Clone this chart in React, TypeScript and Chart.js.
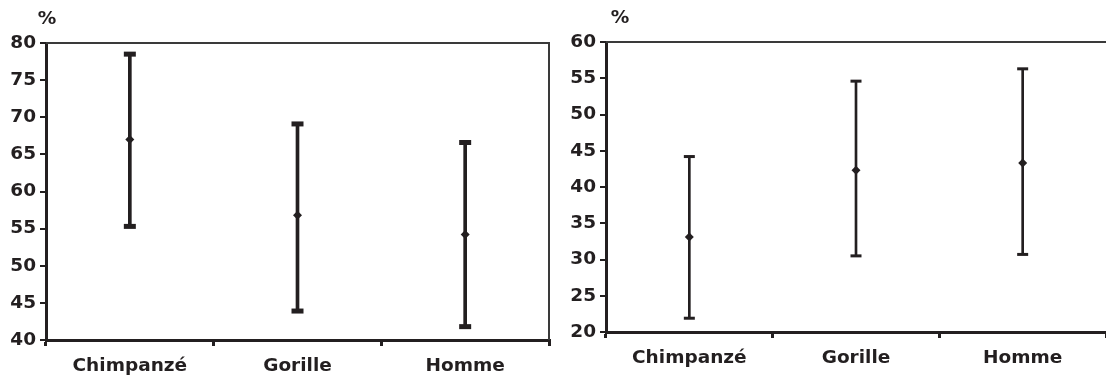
import React, { useEffect, useRef } from "react";
import { Chart, registerables } from "chart.js";

Chart.register(...registerables);

const categories = ["Chimpanzé", "Gorille", "Homme"];
const unitLabel = "%";

const leftHigh = [78.5, 69.1, 66.6];
const leftLow = [55.3, 43.9, 41.8];
const leftMean = [67.0, 56.8, 54.2];

const rightHigh = [44.2, 54.6, 56.3];
const rightLow = [21.9, 30.5, 30.7];
const rightMean = [33.1, 42.3, 43.3];

const leftMin = 40;
const leftMax = 80;
const rightMin = 20;
const rightMax = 60;
const tickStep = 5;

const DARK = "#231f20";
const FONT = "'DejaVu Sans', 'Liberation Sans', Arial, sans-serif";
const FONT_SIZE = 18.5;

type Cfg = {
  high: number[];
  low: number[];
  mean: number[];
  min: number;
  max: number;
  yWidth: number;
  xHeight: number;
  padTop: number;
  padRight: number;
  capWidth: number;
  capThick: number;
  barWidth: number;
  unitDx: number;
  rightBorder: boolean;
};

const boxPlugin = {
  id: "boxAndUnit",
  afterDraw(chart: any) {
    const { ctx, chartArea } = chart;
    const cfg: Cfg = chart.options.plugins.boxAndUnit.cfg;
    ctx.save();
    ctx.strokeStyle = "#3a3a3a";
    ctx.lineWidth = 2;
    ctx.beginPath();
    ctx.moveTo(chartArea.left, chartArea.top);
    ctx.lineTo(chartArea.right, chartArea.top);
    if (cfg.rightBorder) ctx.lineTo(chartArea.right, chartArea.bottom);
    ctx.stroke();
    ctx.fillStyle = DARK;
    ctx.font = `bold ${FONT_SIZE}px ${FONT}`;
    ctx.textAlign = "center";
    ctx.textBaseline = "middle";
    ctx.fillText(unitLabel, chartArea.left + cfg.unitDx, chartArea.top - 24);
    ctx.restore();
  },
};

function ErrorChart({ cfg, width, height }: { cfg: Cfg; width: number; height: number }) {
  const ref = useRef<HTMLCanvasElement>(null);
  useEffect(() => {
    if (!ref.current) return;
    const chart = new Chart(ref.current, {
      type: "bar",
      data: {
        labels: categories,
        datasets: [
          {
            type: "line",
            data: cfg.mean,
            showLine: false,
            pointStyle: "rectRot",
            pointRadius: 4.5,
            backgroundColor: DARK,
            borderColor: DARK,
            borderWidth: 0,
            clip: false,
            order: 0,
          } as any,
          {
            type: "line",
            data: cfg.high,
            showLine: false,
            pointStyle: "line",
            pointRadius: cfg.capWidth / 2,
            borderColor: DARK,
            borderWidth: cfg.capThick,
            clip: false,
            order: 1,
          } as any,
          {
            type: "line",
            data: cfg.low,
            showLine: false,
            pointStyle: "line",
            pointRadius: cfg.capWidth / 2,
            borderColor: DARK,
            borderWidth: cfg.capThick,
            clip: false,
            order: 2,
          } as any,
          {
            type: "bar",
            data: cfg.low.map((l, i) => [l, cfg.high[i]]),
            backgroundColor: DARK,
            barThickness: cfg.barWidth,
            borderWidth: 0,
            order: 3,
          } as any,
        ],
      },
      options: {
        responsive: false,
        animation: false,
        devicePixelRatio: 1,
        layout: {
          autoPadding: false,
          padding: { top: cfg.padTop, right: cfg.padRight, left: 0, bottom: 0 },
        },
        plugins: {
          legend: { display: false },
          tooltip: { enabled: false },
          title: { display: false },
          boxAndUnit: { cfg },
        },
        scales: {
          x: {
            offset: true,
            grid: {
              offset: true,
              drawOnChartArea: false,
              drawTicks: true,
              tickLength: 6,
              color: DARK,
              lineWidth: 3,
            },
            border: { display: true, color: DARK, width: 3 },
            ticks: {
              color: DARK,
              font: { family: FONT, size: FONT_SIZE, weight: "bold" },
              padding: 9,
              maxRotation: 0,
            },
            afterFit: (s: any) => {
              s.height = cfg.xHeight;
              s.paddingLeft = 0;
              s.paddingRight = 0;
            },
          },
          y: {
            min: cfg.min,
            max: cfg.max,
            grid: {
              drawOnChartArea: false,
              drawTicks: true,
              tickLength: 6,
              color: DARK,
              lineWidth: 2,
            },
            border: { display: true, color: DARK, width: 3 },
            ticks: {
              stepSize: tickStep,
              color: DARK,
              font: { family: FONT, size: FONT_SIZE, weight: "bold" },
              padding: 4,
            },
            afterFit: (s: any) => {
              s.width = cfg.yWidth;
              s.paddingTop = 0;
              s.paddingBottom = 0;
            },
          },
        },
      },
      plugins: [boxPlugin],
    } as any);
    return () => chart.destroy();
  }, [cfg]);
  return <canvas ref={ref} width={width} height={height} style={{ display: "block" }} />;
}

const leftCfg: Cfg = {
  high: leftHigh,
  low: leftLow,
  mean: leftMean,
  min: leftMin,
  max: leftMax,
  yWidth: 46,
  xHeight: 40,
  padTop: 43,
  padRight: 4,
  capWidth: 12,
  capThick: 5,
  barWidth: 3,
  unitDx: 1,
  rightBorder: true,
};

const rightCfg: Cfg = {
  high: rightHigh,
  low: rightLow,
  mean: rightMean,
  min: rightMin,
  max: rightMax,
  yWidth: 53,
  xHeight: 48,
  padTop: 42,
  padRight: 0,
  capWidth: 11,
  capThick: 3,
  barWidth: 2,
  unitDx: 14,
  rightBorder: false,
};

export default function App() {
  return (
    <div
      style={{
        position: "fixed",
        left: 0,
        top: 0,
        width: 1106,
        height: 380,
        background: "#fff",
      }}
    >
      <div style={{ position: "absolute", left: 0, top: 0 }}>
        <ErrorChart cfg={leftCfg} width={553} height={380} />
      </div>
      <div style={{ position: "absolute", left: 553, top: 0 }}>
        <ErrorChart cfg={rightCfg} width={553} height={380} />
      </div>
    </div>
  );
}
